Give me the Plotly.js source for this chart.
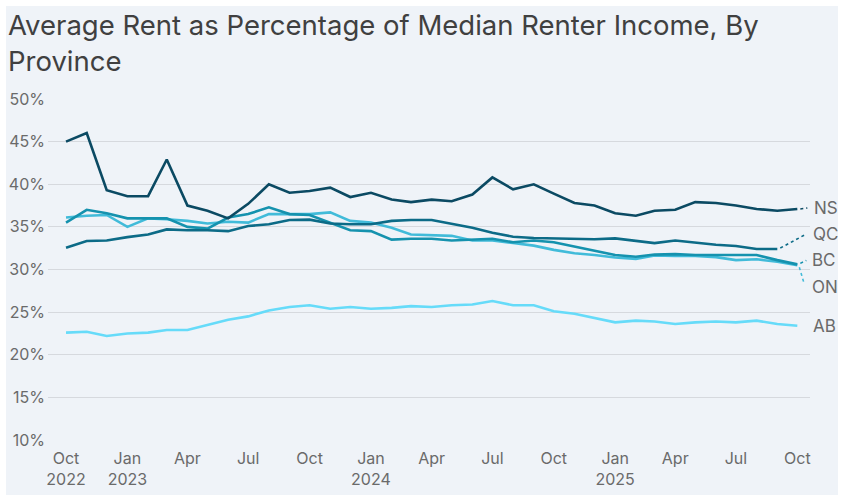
<!DOCTYPE html>
<html>
<head>
<meta charset="utf-8">
<script src="https://cdn.plot.ly/plotly-3.0.1.min.js"></script>
<style>
  html, body { margin: 0; padding: 0; background: #ffffff; }
  #chart { position: absolute; left: 6px; top: 6px; width: 832px; height: 489px; }
</style>
</head>
<body>
<div id="chart"></div>
<script>
// Monthly observations, Oct 2022 – Oct 2025
const months = [
  '2022-10-01','2022-11-01','2022-12-01',
  '2023-01-01','2023-02-01','2023-03-01','2023-04-01','2023-05-01','2023-06-01',
  '2023-07-01','2023-08-01','2023-09-01','2023-10-01','2023-11-01','2023-12-01',
  '2024-01-01','2024-02-01','2024-03-01','2024-04-01','2024-05-01','2024-06-01',
  '2024-07-01','2024-08-01','2024-09-01','2024-10-01','2024-11-01','2024-12-01',
  '2025-01-01','2025-02-01','2025-03-01','2025-04-01','2025-05-01','2025-06-01',
  '2025-07-01','2025-08-01','2025-09-01','2025-10-01'
];

// Average rent as % of median renter income
const ns = [45.0, 46.0, 39.3, 38.6, 38.6, 42.9, 37.5, 36.9, 36.0, 37.7, 40.0, 39.0,
            39.2, 39.6, 38.5, 39.0, 38.2, 37.9, 38.2, 38.0, 38.8, 40.8, 39.4, 40.0,
            38.9, 37.8, 37.5, 36.6, 36.3, 36.9, 37.0, 37.9, 37.8, 37.5, 37.1, 36.9, 37.1];
// Quebec series ends in Sep 2025
const qc = [32.55, 33.35, 33.4, 33.8, 34.1, 34.7, 34.6, 34.6, 34.5, 35.1, 35.3, 35.8,
            35.85, 35.4, 35.3, 35.3, 35.7, 35.8, 35.8, 35.4, 34.9, 34.3, 33.85, 33.7,
            33.65, 33.65, 33.55, 33.65, 33.35, 33.1, 33.4, 33.15, 32.9, 32.75, 32.4, 32.4];
const bc = [35.5, 37.0, 36.6, 36.0, 36.0, 36.0, 35.0, 34.8, 36.1, 36.5, 37.3, 36.5,
            36.4, 35.5, 34.6, 34.5, 33.5, 33.6, 33.6, 33.4, 33.5, 33.6, 33.2, 33.4,
            33.2, 32.7, 32.2, 31.7, 31.5, 31.75, 31.8, 31.7, 31.7, 31.7, 31.7, 31.1, 30.6];
const on = [36.1, 36.3, 36.4, 35.0, 36.0, 35.9, 35.7, 35.4, 35.6, 35.5, 36.5, 36.5,
            36.5, 36.7, 35.7, 35.5, 34.9, 34.1, 34.0, 33.95, 33.4, 33.4, 33.1, 32.8,
            32.3, 31.9, 31.7, 31.4, 31.25, 31.65, 31.6, 31.6, 31.45, 31.1, 31.2, 30.9, 30.5];
const ab = [22.6, 22.7, 22.2, 22.5, 22.6, 22.9, 22.9, 23.5, 24.1, 24.5, 25.2, 25.6,
            25.8, 25.4, 25.6, 25.4, 25.5, 25.7, 25.6, 25.8, 25.9, 26.3, 25.8, 25.8,
            25.1, 24.8, 24.3, 23.8, 24.0, 23.9, 23.6, 23.8, 23.9, 23.8, 24.0, 23.6, 23.4];

const provinces = ['NS', 'QC', 'BC', 'ON', 'AB'];
const seriesData = { NS: ns, QC: qc, BC: bc, ON: on, AB: ab };
const colors = { NS: '#0b4a63', QC: '#0c6b87', BC: '#1592ae', ON: '#41bbd9', AB: '#66dbf9' };

// End-label placement: text offset and dotted leader offset (pixels, +y is up)
const labelPos = {
  NS: { dx: 15, dy: 1,   lead: [3, 0, 10, 1] },
  QC: { dx: 34, dy: 15,  lead: [3, 1, 29, 15] },
  BC: { dx: 13, dy: 4,   lead: [3, 1, 9, 4] },
  ON: { dx: 13, dy: -22, lead: [2, -2, 7, -19] },
  AB: { dx: 14, dy: 0,   lead: null }
};

// X-axis ticks every quarter
const tickVals = ['2022-10-01','2023-01-01','2023-04-01','2023-07-01','2023-10-01',
                  '2024-01-01','2024-04-01','2024-07-01','2024-10-01',
                  '2025-01-01','2025-04-01','2025-07-01','2025-10-01'];
const tickText = ['Oct<br>2022','Jan<br>2023','Apr','Jul','Oct',
                  'Jan<br>2024','Apr','Jul','Oct',
                  'Jan<br>2025','Apr','Jul','Oct'];
const yTicks = [10, 15, 20, 25, 30, 35, 40, 45, 50];

const traces = [];
const shapes = [];
const annotations = [];

provinces.slice().reverse().forEach(p => {
  const vals = seriesData[p];
  const xs = months.slice(0, vals.length);
  traces.push({
    x: xs, y: vals, type: 'scatter', mode: 'lines', name: p,
    line: { color: colors[p], width: 2.6 },
    hoverinfo: 'skip'
  });
  const lastX = xs[xs.length - 1];
  const lastY = vals[vals.length - 1];
  const lp = labelPos[p];
  if (lp.lead) {
    shapes.push({
      type: 'line', xref: 'x', yref: 'y',
      xsizemode: 'pixel', ysizemode: 'pixel',
      xanchor: lastX, yanchor: lastY,
      x0: lp.lead[0], y0: lp.lead[1], x1: lp.lead[2], y1: lp.lead[3],
      line: { color: colors[p], width: 1.6, dash: 'dot' }
    });
  }
  annotations.push({
    x: lastX, y: lastY, xref: 'x', yref: 'y',
    text: p, showarrow: false, xanchor: 'left', yanchor: 'middle',
    xshift: lp.dx, yshift: lp.dy,
    font: { family: 'Inter, sans-serif', size: 17, color: '#6a6a6a' }
  });
});

const layout = {
  width: 832, height: 489,
  paper_bgcolor: '#eff3f8', plot_bgcolor: '#eff3f8',
  margin: { l: 42, r: 28, t: 93, b: 55 },
  showlegend: false,
  title: {
    text: 'Average Rent as Percentage of Median Renter Income, By<br>Province',
    font: { family: 'Inter, sans-serif', size: 27.5, color: '#404040' },
    x: 0, xref: 'container', xanchor: 'left',
    y: 1, yref: 'container', yanchor: 'top',
    pad: { l: 2, t: 29 }
  },
  xaxis: {
    type: 'date',
    range: ['2022-09-04', '2025-10-20'],
    tickvals: tickVals, ticktext: tickText,
    showgrid: false, zeroline: false, showline: false,
    ticks: '',
    ticklabelstandoff: 7,
    tickfont: { family: 'Inter, sans-serif', size: 16, color: '#6a6a6a' }
  },
  yaxis: {
    range: [10, 50],
    tickvals: yTicks,
    ticktext: yTicks.map(v => v + '%'),
    showgrid: true, gridcolor: '#d6d9de', gridwidth: 1,
    zeroline: false, showline: false, ticks: '',
    ticklabelstandoff: 2,
    tickfont: { family: 'Inter, sans-serif', size: 16, color: '#6a6a6a' }
  },
  shapes: shapes,
  annotations: annotations
};

Plotly.newPlot('chart', traces, layout, { displayModeBar: false, staticPlot: true });
</script>
</body>
</html>
